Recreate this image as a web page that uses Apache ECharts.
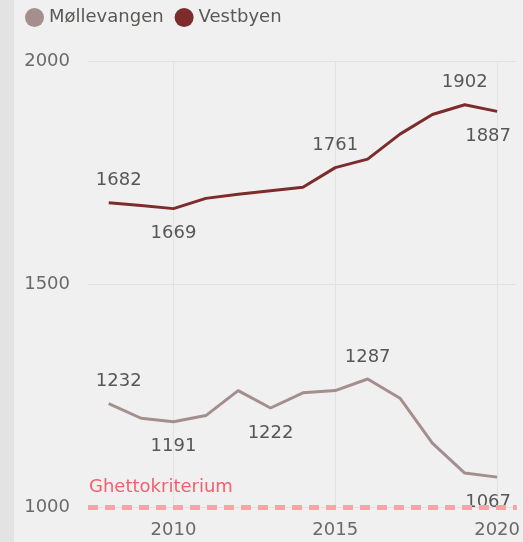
<!DOCTYPE html>
<html>
<head>
<meta charset="utf-8">
<script src="https://cdn.jsdelivr.net/npm/echarts@6/dist/echarts.min.js"></script>
<style>
html,body{margin:0;padding:0;overflow:hidden;width:100%;height:100%;}
body{background:linear-gradient(to right,#e3e3e3 0,#e3e3e3 14px,#f0f0f0 14px,#f0f0f0 100%);}
#chart{width:100vw;height:100vh;}
</style>
</head>
<body>
<div id="chart"></div>
<script>
const years = [2008,2009,2010,2011,2012,2013,2014,2015,2016,2017,2018,2019,2020];
const mollevangen = [1232,1199,1191,1205,1261,1222,1256,1261,1287,1244,1143,1076,1067];
const vestbyen = [1682,1676,1669,1692,1701,1709,1717,1761,1780,1836,1880,1902,1887];
const mollAbove = [0,8];
const mollBelow = [2,5,12];
const vestAbove = [0,7,11];
const vestBelow = [2,12];
const xTicks = [2010,2015,2020];
const yTicks = [1000,1500,2000];
const ghettoValue = 1000;
const ghettoLabel = 'Ghettokriterium';

const FONT = 'DejaVu Sans';
function buildData(vals, above, below){
  const last = vals.length - 1;
  return vals.map((v,i)=>{
    const item = {value:[years[i], v]};
    const isA = above.includes(i), isB = below.includes(i);
    if (isA || isB){
      item.label = {
        show:true,
        position: isA ? 'top' : 'bottom',
        distance: isA ? 13 : 16,
        offset: [i===0 ? 10 : (i===last ? -9 : 0), 0]
      };
    }
    return item;
  });
}
const labelStyle = {show:false, color:'#575757', fontFamily:FONT, fontSize:18, formatter:p=>String(p.value[1])};

const chart = echarts.init(document.getElementById('chart'), null, {renderer:'canvas'});
chart.setOption({
  animation:false,
  backgroundColor:'transparent',
  legend:{
    left:25, top:8, padding:0,
    icon:'circle', itemWidth:19, itemHeight:19, itemGap:11,
    textStyle:{color:'#5a5856', fontFamily:FONT, fontSize:18},
    data:['Møllevangen','Vestbyen']
  },
  grid:{left:88, right:0, top:61, bottom:35, containLabel:false},
  xAxis:{
    type:'value', min:2007.36, max:2020.61,
    axisLine:{show:false},
    axisTick:{show:false, customValues:xTicks},
    axisLabel:{customValues:xTicks, color:'#6a6a6a', fontFamily:FONT, fontSize:18, margin:14, formatter:v=>String(v)},
    splitLine:{show:true, lineStyle:{color:'#e2e2e2', width:1}}
  },
  yAxis:{
    type:'value', min:1000, max:2000, interval:500,
    axisLine:{show:false}, axisTick:{show:false},
    axisLabel:{color:'#6a6a6a', fontFamily:FONT, fontSize:18, margin:18, formatter:v=>String(v)},
    splitLine:{show:true, lineStyle:{color:'#e2e2e2', width:1}}
  },
  series:[
    {
      name:'Møllevangen', type:'line',
      data:buildData(mollevangen, mollAbove, mollBelow),
      color:'#a58e8e',
      lineStyle:{width:3, color:'#a58e8e'},
      symbol:'circle', symbolSize:0, showSymbol:true,
      label:labelStyle,
      z:3,
      markLine:{
        silent:true, symbol:'none',
        lineStyle:{type:[10,7], width:5, color:'#f5a5a5'},
        label:{show:true, position:'insideStartTop', formatter:ghettoLabel, color:'#f2606b', fontFamily:FONT, fontSize:18, distance:[1,11]},
        data:[{yAxis:ghettoValue}]
      }
    },
    {
      name:'Vestbyen', type:'line',
      data:buildData(vestbyen, vestAbove, vestBelow),
      color:'#7d2b2b',
      lineStyle:{width:3, color:'#7d2b2b'},
      symbol:'circle', symbolSize:0, showSymbol:true,
      label:labelStyle,
      z:3
    }
  ]
});
</script>
</body>
</html>
